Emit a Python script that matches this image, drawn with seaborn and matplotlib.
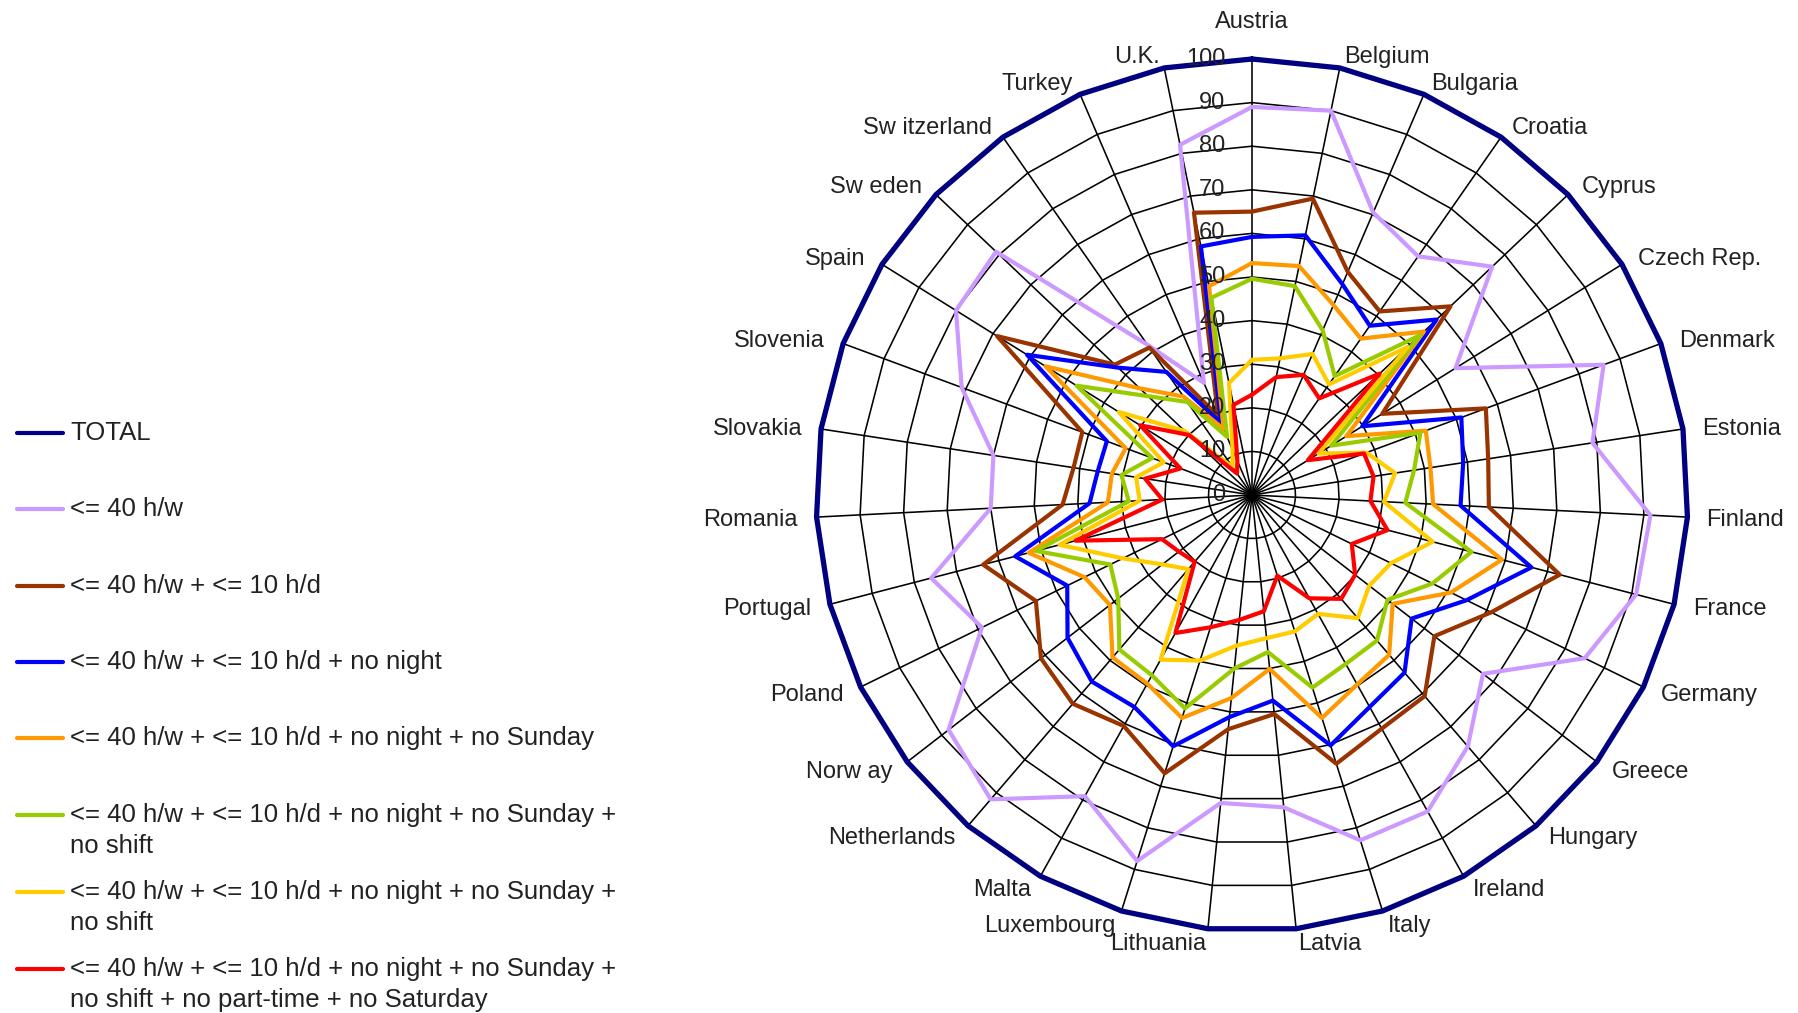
import numpy as np
import pandas as pd
import seaborn as sns
import matplotlib.pyplot as plt
from matplotlib.lines import Line2D

countries = ["Austria", "Belgium", "Bulgaria", "Croatia", "Cyprus", "Czech Rep.", "Denmark",
             "Estonia", "Finland", "France", "Germany", "Greece", "Hungary", "Ireland", "Italy",
             "Latvia", "Lithuania", "Luxembourg", "Malta", "Netherlands", "Norw ay", "Poland",
             "Portugal", "Romania", "Slovakia", "Slovenia", "Spain", "Sw eden", "Sw itzerland",
             "Turkey", "U.K."]

total = [100, 100, 100, 100, 100, 100, 100, 100, 100, 100, 100, 100, 100, 100, 100, 100,
         100, 100, 100, 100, 100, 100, 100, 100, 100, 100, 100, 100, 100, 100, 100]
hw40 = [89, 90, 70.5, 66.7, 76, 55, 86, 79, 91.5, 91, 85, 67, 76, 83, 83, 72,
        71, 88, 79, 92, 88, 69, 76, 60, 60, 71, 80, 81, 42, 28, 82]
hd10 = [65, 69.4, 55.7, 51.3, 62.8, 35.2, 57.2, 54.8, 54.4, 72.9, 61.1, 52.9, 60.8, 61.3, 64.6, 50.5,
        54, 66.9, 60.6, 63.1, 61.2, 55.2, 63.7, 43.5, 41.4, 41.5, 68.9, 43.4, 41.2, 19.7, 66.1]
no_night = [59.2, 60.8, 52.6, 47.3, 58.4, 29.8, 51.2, 49, 47.9, 66.2, 54.8, 46.3, 53.7, 55.6, 60.2, 47.4,
            51.2, 60.4, 55.6, 56.4, 53.5, 47.2, 56.1, 37.3, 35.8, 35.5, 60.8, 42.4, 34.4, 17.9, 58.2]
no_sunday = [53.2, 53.6, 47.4, 43.7, 54.4, 25.5, 42.5, 41.4, 41.6, 59.2, 50.8, 40.8, 48.3, 49.7, 53.6, 40.1,
             46.8, 53.6, 49.5, 49.1, 41.2, 42.8, 52.9, 33.1, 32.5, 30.9, 55.8, 35.5, 27.5, 16.5, 48.9]
no_shift_a = [49.6, 48.9, 41.1, 33.2, 53.2, 21.4, 41.2, 37.6, 35.2, 52, 46.1, 39.3, 44, 44.3, 46.3, 36.2,
              40, 51.3, 47.3, 46.7, 38.8, 36.2, 51.2, 28.3, 30.3, 24.4, 47.4, 32.9, 26, 14.5, 46.2]
no_shift_b = [31, 32, 35.2, 30.9, 49.3, 18, 28, 33.2, 30.3, 42.8, 35.5, 34, 37.2, 31.2, 32.8, 33,
              34.7, 39.8, 43.2, 22.4, 26, 33, 45.6, 25.8, 26.9, 21.6, 36, 21.3, 7.8, 11.3, 26.2]
no_sat = [23, 27.6, 30, 27, 40.4, 15.1, 27.4, 28.2, 27.2, 32.1, 25.5, 29.9, 31.4, 27.1, 19.4, 26.8,
          28.8, 31.8, 36.2, 20.2, 21.2, 23, 41.8, 20.6, 24.8, 17.5, 30.2, 20, 6, 8.5, 21.1]

series_labels = [
    "TOTAL",
    "<= 40 h/w",
    "<= 40 h/w + <= 10 h/d",
    "<= 40 h/w + <= 10 h/d + no night",
    "<= 40 h/w + <= 10 h/d + no night + no Sunday",
    "<= 40 h/w + <= 10 h/d + no night + no Sunday +\nno shift",
    "<= 40 h/w + <= 10 h/d + no night + no Sunday + \nno shift",
    "<= 40 h/w + <= 10 h/d + no night + no Sunday +\nno shift + no part-time + no Saturday",
]
series_values = [total, hw40, hd10, no_night, no_sunday, no_shift_a, no_shift_b, no_sat]
series_colors = ["#000080", "#CC99FF", "#993300", "#0000FF", "#FF9900", "#99CC00", "#FFCC00", "#FF0000"]

sns.set_style("white")
plt.rcParams['font.family'] = ['Liberation Sans', 'DejaVu Sans']
FS = 17
TXT = "#222222"

W, H = 1798, 1013
fig = plt.figure(figsize=(W / 100, H / 100), dpi=100)
cx, cy, R = 1252, 495, 436
ax = fig.add_axes([(cx - R) / W, (H - cy - R) / H, 2 * R / W, 2 * R / H], projection='polar')
ax.set_theta_zero_location('N')
ax.set_theta_direction(-1)

n = len(countries)
angles = np.arange(n) * 2 * np.pi / n
theta_closed = np.append(angles, angles[0])

# polygon grid + spokes
for r in range(10, 100, 10):
    ax.plot(theta_closed, np.full(n + 1, r), color='black', lw=1.15, zorder=1)
for a in angles:
    ax.plot([a, a], [0, 100], color='black', lw=1.15, zorder=1)

# long table for seaborn
rows = []
for lab, vals in zip(series_labels, series_values):
    for a, v in zip(theta_closed, vals + vals[:1]):
        rows.append((lab, a, v))
df = pd.DataFrame(rows, columns=['series', 'theta', 'value'])
palette = dict(zip(series_labels, series_colors))

sns.lineplot(data=df[df.series != "TOTAL"], x='theta', y='value', hue='series',
             hue_order=series_labels[1:], palette=palette, sort=False, estimator=None,
             lw=3.0, legend=False, ax=ax, zorder=3)
sns.lineplot(data=df[df.series == "TOTAL"], x='theta', y='value', color=series_colors[0],
             sort=False, estimator=None, lw=3.8, legend=False, ax=ax, zorder=4)

for ln in ax.lines:
    ln.set_clip_on(False)

ax.set_ylim(0, 100)
ax.set_xticks([])
ax.set_yticks([])
ax.grid(False)
ax.spines['polar'].set_visible(False)
ax.set_xlabel('')
ax.set_ylabel('')

# radial scale labels along the Austria spoke
for r in range(0, 101, 10):
    ax.annotate(str(r), xy=(0, r), xytext=(-19, 0), textcoords='offset points',
                ha='right', va='center', fontsize=FS, color=TXT, zorder=6)

# country labels
for a, name in zip(angles, countries):
    s, c = np.sin(a), np.cos(a)
    if abs(s) < 0.05:
        ax.text(a, 107, name, ha='center', va='baseline', fontsize=FS, color=TXT)
    else:
        ax.annotate(name, xy=(a, 104.4), xytext=(0, -(4.2 * c + 1.3)), textcoords='offset points',
                    ha='left' if s > 0 else 'right', va='center', fontsize=FS, color=TXT,
                    annotation_clip=False)

# legend on the left (drawn by hand to keep Excel-like spacing)
LFS = 18.5
leg_y = [431, 507, 584, 660, 736, 813, 890, 967]
for y, lab, col in zip(leg_y, series_labels, series_colors):
    fig.add_artist(Line2D([17 / W, 63 / W], [1 - (y + 2) / H, 1 - (y + 2) / H],
                          color=col, lw=3, solid_capstyle='round'))
    for k, part in enumerate(lab.split("\n")):
        fig.text(70 / W, 1 - (y + 9 + 31 * k) / H, part, ha='left', va='baseline',
                 fontsize=LFS, color=TXT)

fig.savefig("out.png", dpi=100)
